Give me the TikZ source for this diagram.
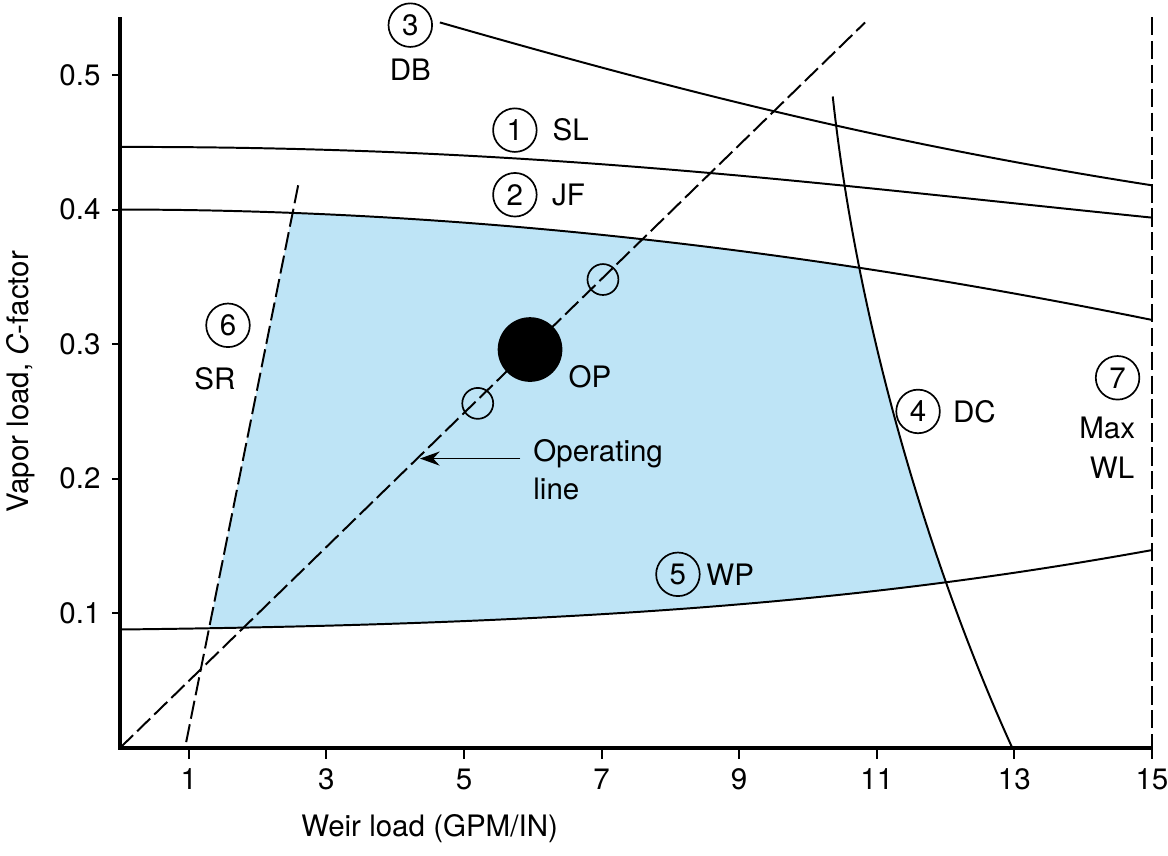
\documentclass[tikz,border=0pt]{standalone}
\usepackage{fontspec}
\setmainfont{TeX Gyre Heros}
\usetikzlibrary{arrows.meta}
\definecolor{opblue}{RGB}{190,228,246}
\tikzset{
  curve/.style={line width=1.4pt},
  dashline/.style={line width=1.4pt,dash pattern=on 13pt off 4pt},
  num/.style={draw,circle,line width=1.2pt,minimum size=31pt,inner sep=0pt},
  lbl/.style={inner sep=1pt},
  txt/.style={font=\fontsize{21}{25}\selectfont}
}
\begin{document}
\begin{tikzpicture}[x=1.72cm,y=33.65cm,txt]
  \useasboundingbox (-1.744,-0.0802) rectangle (15.233,0.5557);

  % shaded operating window
  \begin{scope}
    \clip (2.59,0.418) -- (0.945,0) -- (12.97,0) .. controls (11.9,0.12) and (10.75,0.30) .. (10.36,0.484) -- cycle;
    \fill[opblue] (0,0.400) .. controls (5,0.400) and (10,0.37) .. (15,0.318)
      -- (15,0.147) .. controls (11,0.11) and (7,0.092) .. (0,0.088) -- cycle;
  \end{scope}

  % axes
  \coordinate (O) at (0,0);
  \coordinate (Xe) at (15,0);
  \coordinate (Ye) at (0,0.543);
  \draw[line width=2.4pt] (Ye) -- (O) -- (Xe);
  \foreach \x in {1,3,...,15}
    \draw[line width=1.4pt] (\x,0) -- (\x,-0.008) node[below=3pt] {\x};
  \foreach \y in {0.1,0.2,0.3,0.4,0.5}
    \draw[line width=1.4pt] (0,\y) -- (-0.12,\y) node[left=4pt] {\y};
  \node (xlab) at (4.5,-0.060) {Weir load (GPM/IN)};
  \node[rotate=90] (ylab) at (-1.45,0.272) {Vapor load, \textit{C}-factor};

  % limit curves
  \draw[curve] (4.65,0.539) .. controls (8,0.49) and (11,0.45) .. (15,0.418);
  \draw[curve] (0,0.4465) .. controls (6,0.447) and (10,0.42) .. (15,0.394);
  \draw[curve] (0,0.400) .. controls (5,0.400) and (10,0.37) .. (15,0.318);
  \draw[curve] (0,0.088) .. controls (7,0.092) and (11,0.11) .. (15,0.147);
  \draw[curve] (10.36,0.484) .. controls (10.75,0.30) and (11.9,0.12) .. (12.97,0);
  \draw[dashline] (2.59,0.418) -- (0.945,0);
  \draw[dashline] (O) -- (10.83,0.539);
  \draw[dashline] (15,0.543) -- (Xe);

  % points on the operating line
  \node[draw,circle,line width=1.2pt,minimum size=22pt,inner sep=0pt] (p1) at (5.20,0.256) {};
  \node[draw,circle,line width=1.2pt,minimum size=22pt,inner sep=0pt] (p2) at (7.02,0.348) {};
  \node[fill,circle,minimum size=46pt,inner sep=0pt] (OP) at (5.96,0.296) {};
  \node[lbl] (OPl) at (6.83,0.276) {OP};

  % labels
  \node[num] (c3) at (4.22,0.537) {3};
  \node[lbl] (DB) at (4.22,0.504) {DB};
  \node[num] (c1) at (5.74,0.459) {1};
  \node[lbl] (SL) at (6.55,0.459) {SL};
  \node[num] (c2) at (5.74,0.411) {2};
  \node[lbl] (JF) at (6.52,0.411) {JF};
  \node[num] (c6) at (1.57,0.314) {6};
  \node[lbl] (SR) at (1.38,0.274) {SR};
  \node[num] (c4) at (11.60,0.250) {4};
  \node[lbl] (DC) at (12.42,0.250) {DC};
  \node[num] (c5) at (8.11,0.129) {5};
  \node[lbl] (WP) at (8.87,0.129) {WP};
  \node[num] (c7) at (14.50,0.275) {7};
  \node[lbl] (Max) at (14.35,0.238) {Max};
  \node[lbl] (WL) at (14.42,0.208) {WL};

  \node[lbl,align=left,font=\fontsize{21}{27}\selectfont] (opline) at (6.95,0.207) {Operating\\line};
  \coordinate (oparr) at (4.36,0.215);
  \draw[line width=1.3pt,shorten <=8pt,-{Stealth[length=14pt,width=10pt]}] (opline.west |- 5.8,0.215) -- (oparr);
\end{tikzpicture}
\end{document}
